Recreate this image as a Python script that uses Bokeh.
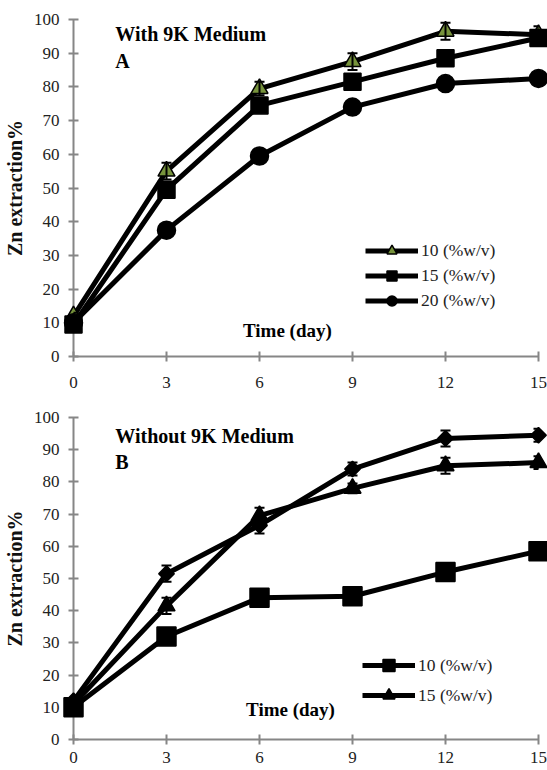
import math
from bokeh.plotting import figure
from bokeh.layouts import column
from bokeh.models import (Range1d, FixedTicker, Legend, LegendItem,
                          Whisker, TeeHead, ColumnDataSource, Label)
from bokeh.embed import file_html
from bokeh.resources import INLINE

# ---------------- data ----------------
days = [0, 3, 6, 9, 12, 15]
y_ticks = [0, 10, 20, 30, 40, 50, 60, 70, 80, 90, 100]

# Panel A: with 9K medium
a_10 = [12, 55, 79.5, 87.5, 96.5, 95.5]
a_10_err = [1, 2.5, 2, 2.5, 2.5, 2.5]
a_15 = [9.5, 49.5, 74.5, 81.5, 88.5, 94.5]
a_20 = [10, 37.5, 59.5, 74, 81, 82.5]

# Panel B: without 9K medium
b_10 = [12, 51.5, 66.5, 84, 93.5, 94.5]
b_10_err = [1, 2.5, 2.5, 2, 2.5, 2]
b_15 = [11, 41.5, 69.5, 78, 85, 86]
b_15_err = [1, 2.5, 2.5, 1.5, 2.5, 2]
b_20 = [10, 32, 44, 44.5, 52, 58.5]

legend_labels = ["10 (%w/v)", "15 (%w/v)", "20 (%w/v)"]

FONT = "Liberation Serif"
AXIS_COLOR = "#868686"
GREEN = "#77933C"


def make_fig(height, top_border, bottom_border, x_standoff):
    p = figure(width=547, height=height, output_backend="svg", toolbar_location=None,
               x_range=Range1d(0, 15), y_range=Range1d(0, 100),
               min_border_left=73, min_border_right=9,
               min_border_top=top_border, min_border_bottom=bottom_border)
    p.outline_line_color = None
    p.xgrid.grid_line_color = None
    p.ygrid.grid_line_color = None
    p.xaxis.ticker = FixedTicker(ticks=days)
    p.yaxis.ticker = FixedTicker(ticks=y_ticks)
    p.yaxis.axis_label = "Zn extraction%"
    for ax in (p.xaxis[0], p.yaxis[0]):
        ax.axis_line_color = AXIS_COLOR
        ax.axis_line_width = 2
        ax.major_tick_line_color = AXIS_COLOR
        ax.major_tick_line_width = 2
        ax.major_tick_in = 5
        ax.major_tick_out = 5
        ax.minor_tick_line_color = None
        ax.major_label_text_font = FONT
        ax.major_label_text_font_size = "17px"
        ax.major_label_text_color = "#222222"
    p.yaxis.major_label_standoff = 9
    p.xaxis.major_label_standoff = x_standoff
    p.yaxis.axis_label_text_font = FONT
    p.yaxis.axis_label_text_font_style = "bold"
    p.yaxis.axis_label_text_font_size = "20px"
    p.yaxis.axis_label_text_color = "#111111"
    p.yaxis.axis_label_standoff = 5
    return p


def add_series(p, ys, marker, size, fill, err=None, angle=0.0):
    src = ColumnDataSource(dict(x=days, y=ys))
    ln = p.line("x", "y", source=src, line_color="black", line_width=5, level="overlay")
    if err is not None:
        esrc = ColumnDataSource(dict(x=days,
                                     lo=[v - e for v, e in zip(ys, err)],
                                     hi=[v + e for v, e in zip(ys, err)]))
        w = Whisker(base="x", lower="lo", upper="hi", source=esrc, level="overlay",
                    line_color="black", line_width=2,
                    upper_head=TeeHead(size=10, line_width=2, line_color="black"),
                    lower_head=TeeHead(size=10, line_width=2, line_color="black"))
        p.add_layout(w)
    sc = p.scatter("x", "y", source=src, marker=marker, size=size, angle=angle,
                   fill_color=fill, line_color="black", line_width=1.5, level="overlay")
    return [ln, sc]


def add_text(p, x, y, txt, size, align="left"):
    p.add_layout(Label(x=x, y=y, text=txt, text_font=FONT, text_font_size=size,
                       text_font_style="bold", text_color="black",
                       text_align=align, text_baseline="middle"))


def style_legend(leg, glyph_h):
    leg.background_fill_alpha = 0
    leg.border_line_color = None
    leg.padding = 0
    leg.margin = 0
    leg.spacing = 0
    leg.glyph_width = 53
    leg.glyph_height = glyph_h
    leg.label_height = glyph_h
    leg.label_standoff = 3
    leg.label_text_font = FONT
    leg.label_text_font_size = "17.5px"
    leg.label_text_color = "#222222"


# ---------------- panel A ----------------
pa = make_fig(400, 19, 44, 15)
ra10 = add_series(pa, a_10, "triangle", 17, GREEN, a_10_err)
ra15 = add_series(pa, a_15, "square", 17, "black")
ra20 = add_series(pa, a_20, "circle", 18, "black")
add_text(pa, 1.35, 95.8, "With 9K Medium", "20px")
add_text(pa, 1.35, 87.8, "A", "20px")
add_text(pa, 6.9, 7.7, "Time (day)", "19px", "center")
leg_a = Legend(items=[LegendItem(label=legend_labels[0], renderers=ra10),
                      LegendItem(label=legend_labels[1], renderers=ra15),
                      LegendItem(label=legend_labels[2], renderers=ra20)],
               location=(292, 43))
style_legend(leg_a, 25)
pa.add_layout(leg_a, "center")

# ---------------- panel B ----------------
pb = make_fig(370, 17, 31, 7)
rb20 = add_series(pb, b_20, "square", 19, "black")
rb15 = add_series(pb, b_15, "triangle", 17, "black", b_15_err)
rb10 = add_series(pb, b_10, "square", 11, "black", b_10_err, angle=math.pi / 4)
add_text(pb, 1.35, 94.4, "Without 9K Medium", "20px")
add_text(pb, 1.35, 86.1, "B", "20px")
add_text(pb, 7.0, 9.3, "Time (day)", "19px", "center")
leg_b = Legend(items=[LegendItem(label=legend_labels[0], renderers=rb10),
                      LegendItem(label=legend_labels[1], renderers=rb15)],
               location=(289, 29))
style_legend(leg_b, 30)
pb.add_layout(leg_b, "center")

layout = column(pa, pb, spacing=0)
open("out.html", "w").write(file_html(layout, INLINE))
